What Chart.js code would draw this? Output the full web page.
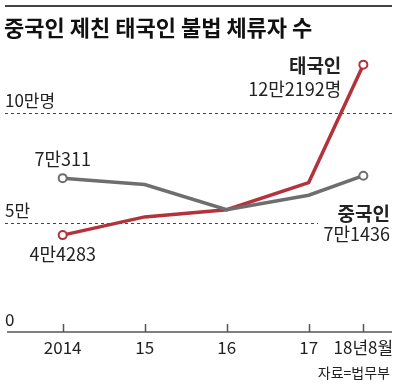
<!DOCTYPE html>
<html>
<head>
<meta charset="utf-8">
<script src="https://cdn.jsdelivr.net/npm/chart.js@4/dist/chart.umd.min.js"></script>
<style>
  html, body { margin:0; padding:0; background:#fff; }
  #wrap { width:400px; height:387px; position:relative; }
</style>
</head>
<body>
<div id="wrap"><canvas id="chart" width="400" height="387"></canvas></div>
<script>
// 데이터 (연말 기준, 마지막은 2018년 8월)
let years = [2014, 2015, 2016, 2017, 2017 + 8/12]
let tickLabels = ['2014', '15', '16', '17', '18년8월']
let china = [70311, 67400, 55900, 62500, 71436]
let thai = [44283, 52600, 55900, 68300, 122192]
let gridValues = [100000, 50000]
let gridLabels = ['10만명', '5만']

let RED = '#b2333b'
let GRAY = '#6e6e6e'
let NUM = '"Liberation Sans Narrow", "Noto Sans CJK KR", sans-serif'
let KR = '"Noto Sans CJK KR", sans-serif'

function pts(vals){
  return vals.map((v,i)=>({x:years[i], y:v}))
}
let endRadius = years.map((y,i)=> (i===0 || i===years.length-1) ? 4 : 0)

let decor = {
  id:'decor',
  beforeDatasetsDraw(chart){
    let c = chart.ctx, xs = chart.scales.x, ys = chart.scales.y, a = chart.chartArea
    c.save()
    // 점선 눈금선
    c.strokeStyle = '#444'
    c.lineWidth = 1
    c.setLineDash([3,3])
    gridValues.forEach((v,i)=>{
      let y = Math.round(ys.getPixelForValue(v)) + 0.5
      c.beginPath()
      c.moveTo(5, y)
      c.lineTo(i===0 ? 392 : 318, y)
      c.stroke()
    })
    c.setLineDash([])
    // x축
    let y0 = Math.round(ys.getPixelForValue(0))
    c.strokeStyle = '#555'
    c.lineWidth = 1.5
    c.beginPath()
    c.moveTo(a.left, y0); c.lineTo(a.right, y0)
    c.stroke()
    years.forEach(v=>{
      let x = Math.round(xs.getPixelForValue(v)) + 0.5
      c.beginPath(); c.moveTo(x, y0 - 8); c.lineTo(x, y0); c.stroke()
    })
    // y 라벨
    c.fillStyle = '#222'
    c.textAlign = 'left'
    c.textBaseline = 'alphabetic'
    c.font = '17px ' + NUM
    gridValues.forEach((v,i)=>{
      c.fillText(gridLabels[i], 5, ys.getPixelForValue(v) - 6)
    })
    c.fillText('0', 5, y0 - 6)
    c.restore()
  },
  afterDraw(chart){
    let c = chart.ctx, xs = chart.scales.x, ys = chart.scales.y
    c.save()
    // 상단 선, 제목
    c.fillStyle = '#444'
    c.fillRect(5, 5, 387, 2)
    c.fillStyle = '#111'
    c.textBaseline = 'middle'
    c.textAlign = 'left'
    c.font = 'bold 22px ' + KR
    c.fillText('중국인 제친 태국인 불법 체류자 수', 4, 28)
    // x 라벨
    c.fillStyle = '#222'
    c.textAlign = 'center'
    c.font = '17px ' + NUM
    let y0 = ys.getPixelForValue(0)
    years.forEach((v,i)=>{
      c.fillText(tickLabels[i], xs.getPixelForValue(v), y0 + 16)
    })
    c.textAlign = 'right'
    c.font = '14px ' + NUM
    c.fillText('자료=법무부', 390, 373)
    // 주석
    let last = years.length - 1
    let px = v=>xs.getPixelForValue(v), py = v=>ys.getPixelForValue(v)
    c.textAlign = 'center'
    c.font = '18px ' + NUM
    c.fillText('7만311', px(years[0]), py(china[0]) - 19)
    c.fillText('4만4283', px(years[0]), py(thai[0]) + 19)
    c.textAlign = 'right'
    c.font = 'bold 19px ' + KR
    c.fillText('태국인', px(years[last]) - 22, py(thai[last]) + 1)
    c.fillText('중국인', 390, py(china[last]) + 38)
    c.font = '18px ' + NUM
    c.fillText('12만2192명', px(years[last]) - 22, py(thai[last]) + 25)
    c.fillText('7만1436', 390, py(china[last]) + 58)
    c.restore()
  }
}

let chart = new Chart(document.getElementById('chart').getContext('2d'), {
  type:'line',
  data:{
    datasets:[
      {
        label:'중국인',
        data:pts(china),
        borderColor:GRAY,
        borderWidth:3.5,
        pointRadius:endRadius,
        pointBackgroundColor:'#fff',
        pointBorderColor:GRAY,
        pointBorderWidth:2,
        tension:0,
        order:0
      },
      {
        label:'태국인',
        data:pts(thai),
        borderColor:RED,
        borderWidth:3.5,
        pointRadius:endRadius,
        pointBackgroundColor:'#fff',
        pointBorderColor:RED,
        pointBorderWidth:2,
        tension:0,
        order:1
      }
    ]
  },
  options:{
    responsive:false,
    animation:false,
    layout:{ padding:{ left:7, right:8, top:55, bottom:55 } },
    plugins:{ legend:{display:false}, tooltip:{enabled:false} },
    scales:{
      x:{ type:'linear', display:false, min:2013.321, max:2018.016 },
      y:{ display:false, min:0, max:126600 }
    }
  },
  plugins:[decor]
})
</script>
</body>
</html>
